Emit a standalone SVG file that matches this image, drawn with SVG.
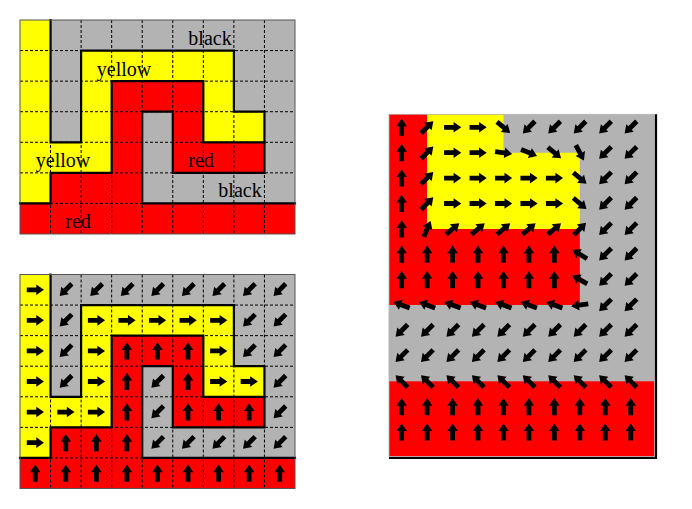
<svg xmlns="http://www.w3.org/2000/svg" xmlns:xlink="http://www.w3.org/1999/xlink" width="692" height="509" viewBox="0 0 692 509">
<style>
.gy{fill:#b3b3b3}
.ye{fill:#ffff00}
.rd{fill:#ff0000}
.grid{fill:none;stroke:#000;stroke-width:1;stroke-dasharray:3 2}
.bd{fill:none;stroke:#000;stroke-width:2.2;stroke-linejoin:miter;stroke-linecap:square}
.frame{fill:none;stroke:#555;stroke-width:1}
.lbl{font-family:"Liberation Serif","Times New Roman",serif;font-size:20px;fill:#000;text-anchor:middle}
</style>
<defs>
<path id="ar" d="M-8.5,-2.4H1V-5.3L8.7,0L1,5.3V2.4H-8.5Z" fill="#000"/>
<use id="r" href="#ar"/>
<use id="u" href="#ar" transform="rotate(-90)"/>
<use id="dl" href="#ar" transform="rotate(135)"/>
<use id="ul" href="#ar" transform="rotate(-135)"/>
<use id="ur" href="#ar" transform="rotate(-45)"/>
<g id="board">
<rect class="gy" x="20" y="20" width="275" height="214"/>
<polygon class="ye" points="20,20 50.56,20 50.56,142.29 81.11,142.29 81.11,50.57 233.89,50.57 233.89,111.71 264.44,111.71 264.44,142.29 203.33,142.29 203.33,81.14 111.67,81.14 111.67,172.86 50.56,172.86 50.56,203.43 20,203.43"/>
<polygon class="rd" points="20,203.43 50.56,203.43 50.56,172.86 111.67,172.86 111.67,81.14 203.33,81.14 203.33,142.29 264.44,142.29 264.44,172.86 172.78,172.86 172.78,111.71 142.22,111.71 142.22,203.43 295,203.43 295,234 20,234"/>
<path class="grid" d="M50.56,20V234M81.11,20V234M111.67,20V234M142.22,20V234M172.78,20V234M203.33,20V234M233.89,20V234M264.44,20V234M20,50.57H295M20,81.14H295M20,111.71H295M20,142.29H295M20,172.86H295M20,203.43H295"/>
<polyline class="bd" points="50.56,20 50.56,142.29 81.11,142.29 81.11,50.57 233.89,50.57 233.89,111.71 264.44,111.71 264.44,142.29 264.44,172.86 172.78,172.86 172.78,111.71 142.22,111.71 142.22,203.43 295,203.43"/>
<polyline class="bd" points="20,203.43 50.56,203.43 50.56,172.86 111.67,172.86 111.67,81.14 203.33,81.14 203.33,142.29 264.44,142.29"/>
<rect class="frame" x="20" y="20" width="275" height="214"/>
</g>
</defs>

<g id="panel-labels">
<use href="#board"/>
<text class="lbl" x="210" y="45">black</text>
<text class="lbl" x="124" y="76">yellow</text>
<text class="lbl" x="63" y="167">yellow</text>
<text class="lbl" x="201" y="167">red</text>
<text class="lbl" x="240" y="197">black</text>
<text class="lbl" x="78" y="228">red</text>
</g>

<g id="panel-arrows">
<use href="#board" transform="translate(0,254.5)"/>
<g>
<use href="#r" x="35.28" y="289.79"/><use href="#dl" x="65.83" y="289.79"/><use href="#dl" x="96.39" y="289.79"/><use href="#dl" x="126.94" y="289.79"/><use href="#dl" x="157.5" y="289.79"/><use href="#dl" x="188.06" y="289.79"/><use href="#dl" x="218.61" y="289.79"/><use href="#dl" x="249.17" y="289.79"/><use href="#dl" x="279.72" y="289.79"/>
<use href="#r" x="35.28" y="320.36"/><use href="#dl" x="65.83" y="320.36"/><use href="#r" x="96.39" y="320.36"/><use href="#r" x="126.94" y="320.36"/><use href="#r" x="157.5" y="320.36"/><use href="#r" x="188.06" y="320.36"/><use href="#r" x="218.61" y="320.36"/><use href="#dl" x="249.17" y="320.36"/><use href="#dl" x="279.72" y="320.36"/>
<use href="#r" x="35.28" y="350.93"/><use href="#dl" x="65.83" y="350.93"/><use href="#r" x="96.39" y="350.93"/><use href="#u" x="126.94" y="350.93"/><use href="#u" x="157.5" y="350.93"/><use href="#u" x="188.06" y="350.93"/><use href="#r" x="218.61" y="350.93"/><use href="#dl" x="249.17" y="350.93"/><use href="#dl" x="279.72" y="350.93"/>
<use href="#r" x="35.28" y="381.5"/><use href="#dl" x="65.83" y="381.5"/><use href="#r" x="96.39" y="381.5"/><use href="#u" x="126.94" y="381.5"/><use href="#dl" x="157.5" y="381.5"/><use href="#u" x="188.06" y="381.5"/><use href="#r" x="218.61" y="381.5"/><use href="#r" x="249.17" y="381.5"/><use href="#dl" x="279.72" y="381.5"/>
<use href="#r" x="35.28" y="412.07"/><use href="#r" x="65.83" y="412.07"/><use href="#r" x="96.39" y="412.07"/><use href="#u" x="126.94" y="412.07"/><use href="#dl" x="157.5" y="412.07"/><use href="#u" x="188.06" y="412.07"/><use href="#u" x="218.61" y="412.07"/><use href="#u" x="249.17" y="412.07"/><use href="#dl" x="279.72" y="412.07"/>
<use href="#r" x="35.28" y="442.64"/><use href="#u" x="65.83" y="442.64"/><use href="#u" x="96.39" y="442.64"/><use href="#u" x="126.94" y="442.64"/><use href="#dl" x="157.5" y="442.64"/><use href="#dl" x="188.06" y="442.64"/><use href="#dl" x="218.61" y="442.64"/><use href="#dl" x="249.17" y="442.64"/><use href="#dl" x="279.72" y="442.64"/>
<use href="#u" x="35.28" y="473.21"/><use href="#u" x="65.83" y="473.21"/><use href="#u" x="96.39" y="473.21"/><use href="#u" x="126.94" y="473.21"/><use href="#u" x="157.5" y="473.21"/><use href="#u" x="188.06" y="473.21"/><use href="#u" x="218.61" y="473.21"/><use href="#u" x="249.17" y="473.21"/><use href="#u" x="279.72" y="473.21"/>
</g>
</g>

<g id="panel-field">
<rect class="gy" x="389" y="114.3" width="265.4" height="342.3"/>
<polygon class="rd" points="389,114.3 427.15,114.3 427.15,228.9 579.85,228.9 579.85,305.1 389,305.1"/>
<polygon class="ye" points="427.15,114.3 503.5,114.3 503.5,152.7 579.85,152.7 579.85,228.9 427.15,228.9"/>
<rect class="rd" x="389" y="381.3" width="265.4" height="75.3"/>
<rect x="389" y="114.3" width="265.4" height="342.3" fill="none" stroke="#b3b3b3" stroke-width="0.8"/>
<path d="M656,114.3V459M389,458H657" stroke="#000" stroke-width="2.2" fill="none"/>
<g>
<use href="#u" x="401.7" y="127.3"/><use href="#ur" x="427.15" y="127.3"/><use href="#r" x="452.6" y="127.3"/><use href="#r" x="478.05" y="127.3"/><use href="#ar" transform="translate(503.5,127.3) rotate(40)"/><use href="#dl" x="528.95" y="127.3"/><use href="#dl" x="554.4" y="127.3"/><use href="#dl" x="579.85" y="127.3"/><use href="#dl" x="605.3" y="127.3"/><use href="#dl" x="630.75" y="127.3"/>
<use href="#u" x="401.7" y="152.7"/><use href="#ur" x="427.15" y="152.7"/><use href="#r" x="452.6" y="152.7"/><use href="#r" x="478.05" y="152.7"/><use href="#ar" transform="translate(503.5,152.7) rotate(8)"/><use href="#ar" transform="translate(528.95,152.7) rotate(22)"/><use href="#ar" transform="translate(554.4,152.7) rotate(40)"/><use href="#ar" transform="translate(579.85,152.7) rotate(62)"/><use href="#dl" x="605.3" y="152.7"/><use href="#dl" x="630.75" y="152.7"/>
<use href="#u" x="401.7" y="178.1"/><use href="#ur" x="427.15" y="178.1"/><use href="#r" x="452.6" y="178.1"/><use href="#r" x="478.05" y="178.1"/><use href="#r" x="503.5" y="178.1"/><use href="#r" x="528.95" y="178.1"/><use href="#r" x="554.4" y="178.1"/><use href="#ar" transform="translate(579.85,178.1) rotate(40)"/><use href="#dl" x="605.3" y="178.1"/><use href="#dl" x="630.75" y="178.1"/>
<use href="#u" x="401.7" y="203.5"/><use href="#ur" x="427.15" y="203.5"/><use href="#r" x="452.6" y="203.5"/><use href="#r" x="478.05" y="203.5"/><use href="#r" x="503.5" y="203.5"/><use href="#r" x="528.95" y="203.5"/><use href="#r" x="554.4" y="203.5"/><use href="#ar" transform="translate(579.85,203.5) rotate(40)"/><use href="#dl" x="605.3" y="203.5"/><use href="#dl" x="630.75" y="203.5"/>
<use href="#u" x="401.7" y="228.9"/><use href="#ar" transform="translate(427.15,228.9) rotate(-67)"/><use href="#ar" transform="translate(452.6,228.9) rotate(-40)"/><use href="#ar" transform="translate(478.05,228.9) rotate(-40)"/><use href="#ar" transform="translate(503.5,228.9) rotate(-40)"/><use href="#ar" transform="translate(528.95,228.9) rotate(-40)"/><use href="#ar" transform="translate(554.4,228.9) rotate(-40)"/><use href="#ur" x="579.85" y="228.9"/><use href="#dl" x="605.3" y="228.9"/><use href="#dl" x="630.75" y="228.9"/>
<use href="#u" x="401.7" y="254.3"/><use href="#u" x="427.15" y="254.3"/><use href="#u" x="452.6" y="254.3"/><use href="#u" x="478.05" y="254.3"/><use href="#u" x="503.5" y="254.3"/><use href="#u" x="528.95" y="254.3"/><use href="#u" x="554.4" y="254.3"/><use href="#ar" transform="translate(579.85,254.3) rotate(-148)"/><use href="#dl" x="605.3" y="254.3"/><use href="#dl" x="630.75" y="254.3"/>
<use href="#u" x="401.7" y="279.7"/><use href="#u" x="427.15" y="279.7"/><use href="#u" x="452.6" y="279.7"/><use href="#u" x="478.05" y="279.7"/><use href="#u" x="503.5" y="279.7"/><use href="#u" x="528.95" y="279.7"/><use href="#u" x="554.4" y="279.7"/><use href="#ar" transform="translate(579.85,279.7) rotate(-150)"/><use href="#dl" x="605.3" y="279.7"/><use href="#dl" x="630.75" y="279.7"/>
<use href="#ar" transform="translate(401.7,305.1) rotate(-160)"/><use href="#ar" transform="translate(427.15,305.1) rotate(-160)"/><use href="#ar" transform="translate(452.6,305.1) rotate(-160)"/><use href="#ar" transform="translate(478.05,305.1) rotate(-160)"/><use href="#ar" transform="translate(503.5,305.1) rotate(-160)"/><use href="#ar" transform="translate(528.95,305.1) rotate(-160)"/><use href="#ar" transform="translate(554.4,305.1) rotate(-160)"/><use href="#ar" transform="translate(579.85,305.1) rotate(172)"/><use href="#dl" x="605.3" y="305.1"/><use href="#dl" x="630.75" y="305.1"/>
<use href="#dl" x="401.7" y="330.5"/><use href="#dl" x="427.15" y="330.5"/><use href="#dl" x="452.6" y="330.5"/><use href="#dl" x="478.05" y="330.5"/><use href="#dl" x="503.5" y="330.5"/><use href="#dl" x="528.95" y="330.5"/><use href="#dl" x="554.4" y="330.5"/><use href="#dl" x="579.85" y="330.5"/><use href="#dl" x="605.3" y="330.5"/><use href="#dl" x="630.75" y="330.5"/>
<use href="#dl" x="401.7" y="355.9"/><use href="#dl" x="427.15" y="355.9"/><use href="#dl" x="452.6" y="355.9"/><use href="#dl" x="478.05" y="355.9"/><use href="#dl" x="503.5" y="355.9"/><use href="#dl" x="528.95" y="355.9"/><use href="#dl" x="554.4" y="355.9"/><use href="#dl" x="579.85" y="355.9"/><use href="#dl" x="605.3" y="355.9"/><use href="#dl" x="630.75" y="355.9"/>
<use href="#ul" x="401.7" y="381.3"/><use href="#ul" x="427.15" y="381.3"/><use href="#ul" x="452.6" y="381.3"/><use href="#ul" x="478.05" y="381.3"/><use href="#ul" x="503.5" y="381.3"/><use href="#ul" x="528.95" y="381.3"/><use href="#ul" x="554.4" y="381.3"/><use href="#ul" x="579.85" y="381.3"/><use href="#ul" x="605.3" y="381.3"/><use href="#ul" x="630.75" y="381.3"/>
<use href="#u" x="401.7" y="406.7"/><use href="#u" x="427.15" y="406.7"/><use href="#u" x="452.6" y="406.7"/><use href="#u" x="478.05" y="406.7"/><use href="#u" x="503.5" y="406.7"/><use href="#u" x="528.95" y="406.7"/><use href="#u" x="554.4" y="406.7"/><use href="#u" x="579.85" y="406.7"/><use href="#u" x="605.3" y="406.7"/><use href="#u" x="630.75" y="406.7"/>
<use href="#u" x="401.7" y="432.1"/><use href="#u" x="427.15" y="432.1"/><use href="#u" x="452.6" y="432.1"/><use href="#u" x="478.05" y="432.1"/><use href="#u" x="503.5" y="432.1"/><use href="#u" x="528.95" y="432.1"/><use href="#u" x="554.4" y="432.1"/><use href="#u" x="579.85" y="432.1"/><use href="#u" x="605.3" y="432.1"/><use href="#u" x="630.75" y="432.1"/>
</g>
</g>
</svg>
